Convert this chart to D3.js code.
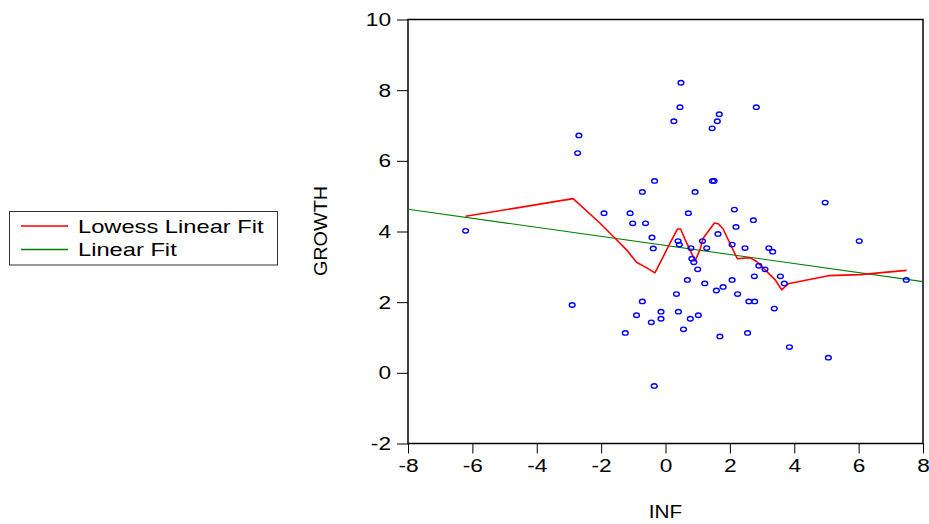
<!DOCTYPE html>
<html>
<head>
<meta charset="utf-8">
<script src="https://cdn.jsdelivr.net/npm/d3@7/dist/d3.min.js"></script>
<style>
  html, body { margin: 0; padding: 0; background: #fff; }
  svg { display: block; }
  text { font-family: "Liberation Sans", Arial, sans-serif; fill: #000; }
</style>
</head>
<body>
<svg id="chart" width="929" height="524"></svg>
<script>
// ---- Data ----
const infValues = [
  -6.21, -2.90, -2.69, -2.73, -1.91, -1.10, -1.02, -0.62, -0.72, -0.34,
  -0.42, -0.38, -0.72, -0.90, -0.14, -0.14, -0.44, -1.25, -0.35, 0.48,
  0.45, 0.26, 1.61, 1.67, 1.45, 2.82, 1.46, 1.51, 0.92, 0.71,
  2.14, 2.73, 4.96, 2.19, 1.63, 0.39, 0.43, 1.15, 6.02, 0.79,
  1.28, 2.07, 2.47, 3.21, 3.33, 0.82, 0.88, 1.00, 2.90, 3.09,
  2.76, 3.57, 0.68, 2.07, 1.22, 3.69, 1.79, 1.58, 0.34, 2.24,
  7.48, 2.59, 2.77, 3.38, 0.40, 1.02, 0.77, 0.56, 1.69, 2.55,
  3.85, 5.06
];
const growthValues = [
  4.02, 1.92, 6.72, 6.22, 4.52, 4.52, 4.23, 4.23, 5.12, 5.43,
  3.83, 3.52, 2.02, 1.63, 1.73, 1.53, 1.43, 1.13, -0.37, 8.21,
  7.52, 7.12, 7.12, 7.32, 6.92, 7.52, 5.43, 5.43, 5.12, 4.52,
  4.62, 4.32, 4.82, 4.13, 3.93, 3.73, 3.63, 3.73, 3.73, 3.53,
  3.53, 3.63, 3.53, 3.53, 3.43, 3.23, 3.13, 2.93, 3.03, 2.93,
  2.73, 2.73, 2.63, 2.63, 2.53, 2.53, 2.43, 2.33, 2.23, 2.23,
  2.63, 2.02, 2.02, 1.82, 1.73, 1.63, 1.53, 1.23, 1.03, 1.13,
  0.73, 0.43
];
const lowessX = [-6.21, -2.87, -2.04, -1.62, -1.21, -0.90, -0.58, -0.33, -0.12, 0.14,
  0.37, 0.47, 0.61, 0.92, 1.07, 1.17, 1.52, 1.64, 1.79, 2.23,
  2.62, 2.83, 3.14, 3.40, 3.61, 3.81, 5.06, 6.04, 7.49];
const lowessY = [4.43, 4.93, 4.24, 3.86, 3.48, 3.13, 2.97, 2.83, 3.20, 3.67,
  4.07, 4.07, 3.77, 3.17, 3.48, 3.81, 4.24, 4.22, 4.07, 3.23,
  3.26, 3.15, 2.87, 2.64, 2.35, 2.52, 2.75, 2.78, 2.90];
const linearX = [-8, 8];
const linearY = [4.63, 2.58];
const xTicks = [-8, -6, -4, -2, 0, 2, 4, 6, 8];
const yTicks = [-2, 0, 2, 4, 6, 8, 10];
const seriesNames = ["Lowess Linear Fit", "Linear Fit"];
const seriesColors = ["#ff0000", "#008000"];

// ---- Layout ----
const svg = d3.select("#chart");
const pLeft = 408, pRight = 923, pTop = 19.5, pBottom = 443.5;
const stretch = 1.26;
const fontSize = 18;

const x = d3.scaleLinear().domain([-8, 8]).range([pLeft, pRight]);
const y = d3.scaleLinear().domain([-2, 10]).range([pBottom, pTop]);

function stretchText(sel, k) {
  sel.each(function () {
    const w = this.getComputedTextLength();
    d3.select(this).attr("textLength", w * k).attr("lengthAdjust", "spacingAndGlyphs");
  });
}

// Axes
const xAxis = svg.append("g")
  .attr("transform", `translate(0,${pBottom})`)
  .call(d3.axisBottom(x).tickValues(xTicks).tickSize(10).tickPadding(6).tickSizeOuter(0)
    .tickFormat(d3.format("d")));
const yAxis = svg.append("g")
  .attr("transform", `translate(${pLeft},0)`)
  .call(d3.axisLeft(y).tickValues(yTicks).tickSize(11).tickPadding(6).tickSizeOuter(0)
    .tickFormat(d3.format("d")));
[xAxis, yAxis].forEach(a => {
  a.select(".domain").remove();
  a.selectAll(".tick line").attr("stroke", "#000").attr("stroke-width", 1);
  a.selectAll(".tick text")
    .style("font-family", '"Liberation Sans", Arial, sans-serif')
    .style("font-size", fontSize + "px").attr("fill", "#000")
    .text(d => d < 0 ? "-" + Math.abs(d) : String(d));
  a.selectAll(".tick text").call(stretchText, stretch);
});
yAxis.selectAll(".tick text").attr("dy", "0.34em");

// Frame
svg.append("rect")
  .attr("x", pLeft).attr("y", pTop)
  .attr("width", pRight - pLeft).attr("height", pBottom - pTop)
  .attr("fill", "none").attr("stroke", "#000").attr("stroke-width", 1.5);

// Clip
svg.append("clipPath").attr("id", "plotclip")
  .append("rect").attr("x", pLeft).attr("y", pTop)
  .attr("width", pRight - pLeft).attr("height", pBottom - pTop);
const plot = svg.append("g").attr("clip-path", "url(#plotclip)");

// Lines
const linearData = linearX.map((v, i) => [v, linearY[i]]);
const lowessData = lowessX.map((v, i) => [v, lowessY[i]]);
const line = d3.line().x(d => x(d[0])).y(d => y(d[1]));

plot.append("path").datum(linearData)
  .attr("d", line).attr("fill", "none")
  .attr("stroke", seriesColors[1]).attr("stroke-width", 1.1);

plot.append("path").datum(lowessData)
  .attr("d", line).attr("fill", "none")
  .attr("stroke", seriesColors[0]).attr("stroke-width", 1.6)
  .attr("stroke-linejoin", "round");

// Points
const pts = infValues.map((v, i) => [v, growthValues[i]]);
plot.selectAll("ellipse.pt").data(pts).enter().append("ellipse")
  .attr("class", "pt")
  .attr("cx", d => x(d[0])).attr("cy", d => y(d[1]))
  .attr("rx", 2.9).attr("ry", 2.2)
  .attr("fill", "none").attr("stroke", "#0000ff").attr("stroke-width", 1.4);

// Axis titles
const infT = svg.append("text").attr("x", (pLeft + pRight) / 2).attr("y", 518)
  .attr("text-anchor", "middle").style("font-size", fontSize + "px").text("INF");
infT.call(stretchText, 1.15);
const grT = svg.append("text")
  .attr("transform", `translate(327,231) rotate(-90)`)
  .attr("text-anchor", "middle").style("font-size", fontSize + "px").text("GROWTH");
grT.call(stretchText, 1.1);

// Legend
const lg = svg.append("g");
lg.append("rect").attr("x", 9.5).attr("y", 211.5).attr("width", 268).attr("height", 53.5)
  .attr("fill", "#fff").attr("stroke", "#333").attr("stroke-width", 1);
const legendYs = [226, 249.5];
seriesNames.forEach((name, i) => {
  lg.append("line").attr("x1", 21).attr("x2", 68)
    .attr("y1", legendYs[i]).attr("y2", legendYs[i])
    .attr("stroke", seriesColors[i]).attr("stroke-width", 1.6);
  const t = lg.append("text").attr("x", 78).attr("y", legendYs[i] + 6.5)
    .style("font-size", "18.5px").text(name);
  t.call(stretchText, 1.28);
});
</script>
</body>
</html>
